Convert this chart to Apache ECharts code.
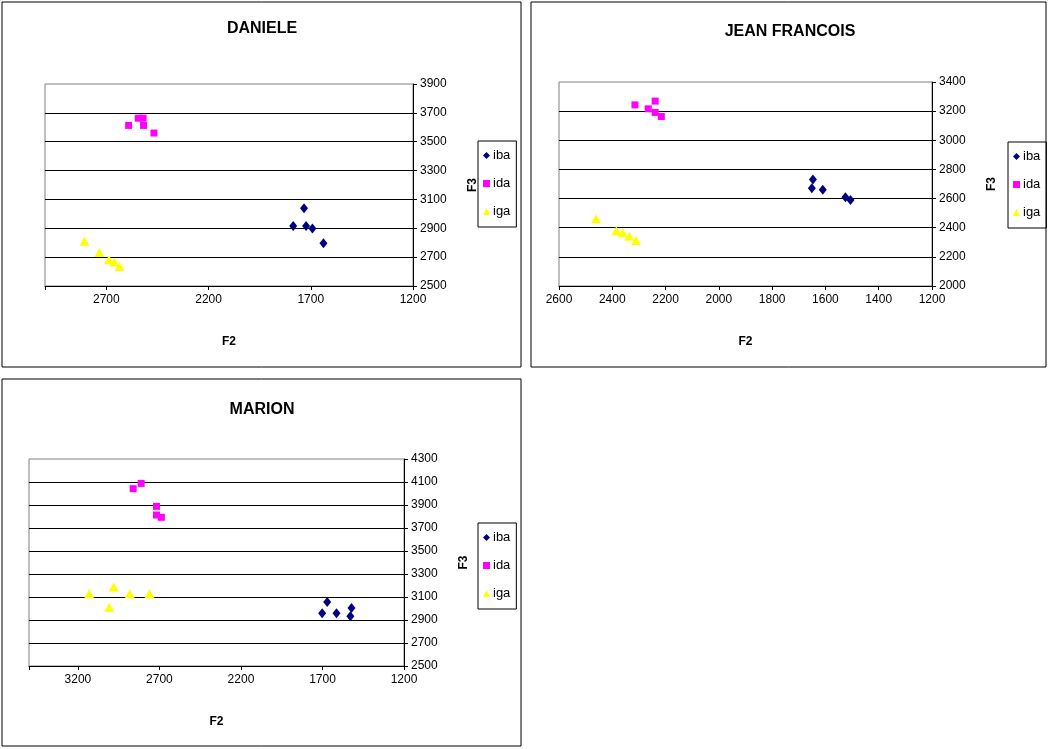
<!DOCTYPE html>
<html>
<head>
<meta charset="utf-8">
<script src="https://cdn.jsdelivr.net/npm/echarts@6/dist/echarts.min.js"></script>
<style>
html,body{margin:0;padding:0;background:#fff;}
#c{width:1048px;height:749px;}
</style>
</head>
<body>
<div id="c"></div>
<script>
// ---- data (F2, F3) ----
const speakers = ["DANIELE", "JEAN FRANCOIS", "MARION"];
const seriesNames = ["iba", "ida", "iga"];

const danieleIba = [[1786,2916],[1733,3038],[1723,2916],[1692,2898],[1638,2797]];
const danieleIda = [[2591,3613],[2544,3663],[2520,3663],[2518,3613],[2467,3560]];
const danieleIga = [[2807,2810],[2734,2732],[2687,2682],[2661,2666],[2635,2636]];

const jeanIba = [[1647,2731],[1651,2670],[1610,2660],[1525,2609],[1506,2591]];
const jeanIda = [[2315,3243],[2265,3216],[2239,3269],[2239,3191],[2216,3163]];
const jeanIga = [[2461,2462],[2385,2379],[2361,2366],[2336,2341],[2311,2313]];

const marionIba = [[1671,3056],[1702,2958],[1614,2958],[1522,3004],[1529,2932]];
const marionIda = [[2861,4042],[2812,4088],[2718,3888],[2718,3813],[2688,3793]];
const marionIga = [[3131,3129],[2980,3187],[3008,3010],[2882,3129],[2761,3129]];

// axis ranges: [min, max, interval]
const danieleX = [1200, 3000, 500];
const danieleY = [2500, 3900, 200];
const jeanX = [1200, 2600, 200];
const jeanY = [2000, 3400, 200];
const marionX = [1200, 3500, 500];
const marionY = [2500, 4300, 200];

const allData = [
  [danieleIba, danieleIda, danieleIga],
  [jeanIba, jeanIda, jeanIga],
  [marionIba, marionIda, marionIga]
];
const xRanges = [danieleX, jeanX, marionX];
const yRanges = [danieleY, jeanY, marionY];

// ---- layout ----
const FONT = "Liberation Sans, Arial, sans-serif";
const grids = [
  {left: 45, top: 84, width: 368, height: 202},
  {left: 559, top: 82, width: 373, height: 204},
  {left: 29, top: 459, width: 375, height: 207}
];
const panels = [
  {x: 2, y: 2, w: 519, h: 365},
  {x: 531, y: 2, w: 515, h: 365},
  {x: 2, y: 379, w: 519, h: 367}
];
const titlePos = [{x: 262, y: 21}, {x: 790, y: 24}, {x: 262, y: 402}];
const legendPos = [{left: 478, top: 141}, {left: 1008, top: 142}, {left: 478, top: 523}];

const symbols = ["diamond", "rect", "triangle"];
const symbolSizes = [[8, 10], 7, [10, 9]];
const colors = ["#000080", "#FF00FF", "#FFFF00"];

const xAxes = [], yAxes = [], series = [], titles = [], legends = [], graphics = [];
for (let i = 0; i < 3; i++) {
  const xr = xRanges[i], yr = yRanges[i];
  xAxes.push({
    gridIndex: i, type: "value", inverse: true,
    min: xr[0], max: xr[1], interval: xr[2],
    name: "F2", nameLocation: "middle", nameGap: 50,
    nameTextStyle: {fontFamily: FONT, fontWeight: "bold", fontSize: 12, color: "#000"},
    axisLine: {show: true, onZero: false, lineStyle: {color: "#000", width: 1}},
    axisTick: {show: true, inside: false, length: 4, lineStyle: {color: "#000"}},
    axisLabel: {
      fontFamily: FONT, fontSize: 12, color: "#000", margin: 8,
      formatter: (v) => ((v - xr[0]) % xr[2] === 0 ? String(v) : "")
    },
    splitLine: {show: false}
  });
  yAxes.push({
    gridIndex: i, type: "value", position: "right",
    min: yr[0], max: yr[1], interval: yr[2],
    name: "F3", nameLocation: "middle", nameGap: 54, nameRotate: 90,
    nameTextStyle: {fontFamily: FONT, fontWeight: "bold", fontSize: 12, color: "#000"},
    axisLine: {show: true, onZero: false, lineStyle: {color: "#000", width: 1}},
    axisTick: {show: true, inside: false, length: 4, lineStyle: {color: "#000"}},
    axisLabel: {fontFamily: FONT, fontSize: 12, color: "#000", margin: 7, formatter: (v) => String(v)},
    splitLine: {show: true, showMaxLine: false, showMinLine: false, lineStyle: {color: "#000", width: 1}}
  });
  for (let s = 0; s < 3; s++) {
    series.push({
      type: "scatter", name: seriesNames[s],
      xAxisIndex: i, yAxisIndex: i,
      data: allData[i][s],
      symbol: symbols[s], symbolSize: symbolSizes[s],
      itemStyle: {color: colors[s], opacity: 1},
      emphasis: {disabled: true}
    });
  }
  titles.push({
    text: speakers[i], left: titlePos[i].x, top: titlePos[i].y, textAlign: "center",
    padding: 0,
    textStyle: {fontFamily: FONT, fontWeight: "bold", fontSize: 16, color: "#000"}
  });
  legends.push({
    data: seriesNames.map((n, k) => ({name: n, icon: symbols[k], itemStyle: {color: colors[k], opacity: 1}})),
    orient: "vertical", left: legendPos[i].left, top: legendPos[i].top,
    itemWidth: 7, itemHeight: 7, itemGap: 15,
    padding: [8, 6, 9, 5],
    borderColor: "#000", borderWidth: 1,
    textStyle: {fontFamily: FONT, fontSize: 13, color: "#000", padding: [0, 0, 0, -2]},
    selectedMode: false
  });
  graphics.push({
    type: "rect", shape: {x: panels[i].x, y: panels[i].y, width: panels[i].w, height: panels[i].h},
    style: {fill: "none", stroke: "#000", lineWidth: 1}, silent: true, z: 100
  });
}

const chart = echarts.init(document.getElementById("c"), null, {renderer: "canvas"});
chart.setOption({
  animation: false,
  backgroundColor: "#fff",
  title: titles,
  legend: legends,
  grid: grids.map(g => Object.assign({show: true, borderColor: "#808080", borderWidth: 1, backgroundColor: "transparent"}, g)),
  xAxis: xAxes,
  yAxis: yAxes,
  series: series,
  graphic: graphics
});
</script>
</body>
</html>
